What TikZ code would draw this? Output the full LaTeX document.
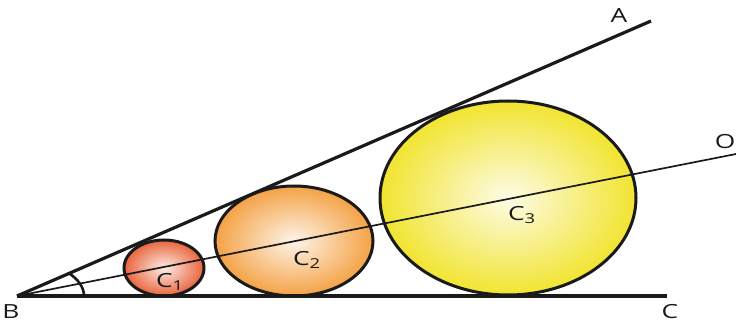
\documentclass[tikz,border=0pt]{standalone}
\usepackage{fontspec}
\setmainfont{Open Sans}
\usetikzlibrary{calc}
\definecolor{redorange}{HTML}{E9643C}
\definecolor{peach}{HTML}{F4A245}
\definecolor{lemon}{HTML}{F1E430}
\definecolor{ink}{HTML}{1A1A1A}

\begin{document}
\begin{tikzpicture}[x=1pt,y=1pt,
  ray/.style={ink,line width=3.2pt},
  midray/.style={ink,line width=1.7pt},
  rim/.style={ink,line width=3pt},
  lbl/.style={text=ink,font=\fontsize{19.5}{22}\selectfont,inner sep=0pt,xscale=1.35}]
  \useasboundingbox (0,0) rectangle (736,324);
  % vertex and ray ends
  \coordinate (B) at (17,28);
  \coordinate (A) at (651,303);
  \coordinate (C) at (667,28);
  \coordinate (O) at (736,170);
  % circle centres
  \coordinate (c1) at (164,56);
  \coordinate (c2) at (294,83);
  \coordinate (c3) at (508,126);

  \foreach \ctr/\col/\rx/\ry in {c1/redorange/40/28, c2/peach/79/55, c3/lemon/128/97}
  {
    \shade[inner color=\col!12, outer color=\col] (\ctr) ellipse [x radius=\rx, y radius=\ry];
    \draw[rim] (\ctr) ellipse [x radius=\rx, y radius=\ry];
  }

  \draw[ray] (B) -- (A);
  \draw[ray] (B) -- (C);
  \draw[midray] (B) -- (O);
  \draw[ink,line width=2.6pt] ($(B)+(67,0)$) arc [start angle=0, end angle=40, x radius=67, y radius=36];

  \node[lbl] (labB) at (11,12) {B};
  \node[lbl] (labC) at (670,12) {C};
  \node[lbl] (labA) at (619,308) {A};
  \node[lbl] (labO) at (725,182) {O};
  \node[lbl] (labC1) at (170,42) {C\textsubscript{1}};
  \node[lbl] (labC2) at (307,64) {C\textsubscript{2}};
  \node[lbl] (labC3) at (522,109) {C\textsubscript{3}};
\end{tikzpicture}
\end{document}
